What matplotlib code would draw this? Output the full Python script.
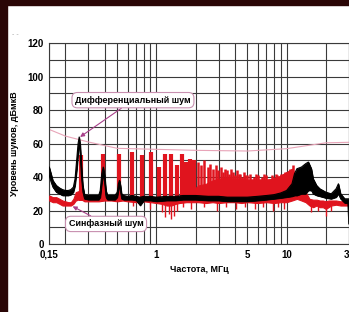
import matplotlib
matplotlib.use("Agg")
import matplotlib.pyplot as plt
from matplotlib.patches import Rectangle

plt.rcParams['font.family'] = ['Liberation Sans', 'DejaVu Sans']

# --- data ---
x_ticks = [0.15, 1, 5, 10, 30]
x_tick_labels = ["0,15", "1", "5", "10", "30"]
x_grid = [0.15, 0.2, 0.3, 0.4, 0.5, 0.6, 0.7, 0.8, 0.9, 1, 2, 3, 4, 5, 6, 7, 8, 9, 10, 20, 30]
y_ticks = [0, 20, 40, 60, 80, 100, 120]

# limit line (pink)
limit_f = [0.15, 0.2, 0.3, 0.5, 1, 2, 5, 10, 20, 30]
limit_v = [68.5, 64.5, 61, 57.2, 56.6, 56, 55.6, 57, 60.5, 60.8]

# common-mode noise (red): floor band
red_f = [0.15, 0.16, 0.17, 0.18, 0.19, 0.20, 0.21, 0.22, 0.23, 0.24, 0.26, 0.28, 0.30, 0.33,
         0.36, 0.40, 0.45, 0.50, 0.55, 0.60, 0.70, 0.75, 0.80, 0.90, 1.0, 1.1, 1.2, 1.3, 1.4,
         1.5, 1.7, 1.9, 2.1, 2.4, 2.7, 3.0, 3.5, 4.0, 4.5, 5.0, 6.0, 7.0, 8.0, 9.0, 10.0, 11.0,
         12.0, 13.0, 14.0, 15.0, 16.0, 17.0, 18.0, 19.0, 20.0, 21.0, 22.0, 24.0, 26.0, 28.0, 30.0]
red_lo = [26, 25, 25, 24, 23, 23, 23, 23, 24, 26, 27, 25.5, 25.5, 25.5,
          25.5, 26, 26, 25.5, 26, 25.5, 25, 25, 25.5, 25, 24.5, 24, 23, 23, 24,
          24.5, 25, 25, 25, 24.5, 25, 24.5, 25, 25, 24.5, 25, 24.5, 25, 24.5, 25, 25, 26,
          27, 26, 25, 23, 22, 23, 22, 22, 21, 22, 23, 23.5, 23, 23, 23]
red_hi = [29, 28, 28, 27, 26, 25.5, 25, 25, 27, 31, 32, 28, 28, 28,
          28, 29, 29, 29, 29, 28, 28, 28, 28, 28, 28, 27, 27, 27, 27,
          28, 30, 32, 35, 36, 38, 39, 39.5, 39, 39, 38.5, 38.5, 38.5, 39, 41, 43, 45,
          40, 35, 31, 27, 26.5, 26.5, 26, 26, 25.5, 26, 26, 26, 25.5, 26, 25.5]

# red harmonic spikes
spike_f = [0.265, 0.39, 0.52, 0.65, 0.78, 0.91, 1.04, 1.17, 1.30, 1.43, 1.56, 1.69, 1.82, 1.95]
spike_top = [53, 54, 54, 55, 53, 55, 46, 54, 54, 47, 54, 49, 51, 50]
dense_f = [2.08, 2.21, 2.34, 2.47, 2.6, 2.73, 2.86, 2.99, 3.12, 3.25, 3.38, 3.51, 3.64, 3.77,
           3.9, 4.03, 4.16, 4.29, 4.42, 4.55, 4.68, 4.81, 4.94, 5.2, 5.4, 5.6, 5.8, 6.0, 6.25,
           6.5, 6.75, 7.0, 7.25, 7.5, 7.75, 8.0, 8.25, 8.5, 8.75, 9.0, 9.25, 9.5, 9.75, 10.0,
           10.3, 10.6, 10.9, 11.2]
dense_top = [49, 47, 50, 46, 48, 45, 47, 44, 46, 43, 45, 44, 42, 45,
             43, 41, 44, 42, 42, 40, 43, 41, 41, 42, 39, 40, 42, 41, 39,
             40, 42, 41, 39, 39, 41, 40, 42, 41, 40, 42, 40, 41, 43, 43,
             42, 45, 44, 47]

# red downward dips
dip_f = [0.66, 0.9, 1.1, 1.17, 1.25, 1.3, 1.36, 1.45, 1.6, 1.85, 2.3, 2.9, 3.4, 4.1, 4.8,
         5.7, 6.6, 7.8, 8.6, 9.6, 15.5, 17.5, 20.0, 22.0]
dip_bottom = [23, 21, 19, 16, 18, 15, 17, 20, 22, 21, 22, 20, 22, 21, 22,
              21, 22, 20, 22, 21, 19, 20, 17, 20]

# differential noise (black) band
black_f = [0.15, 0.155, 0.16, 0.17, 0.18, 0.19, 0.20, 0.21, 0.22, 0.23, 0.237, 0.245, 0.25,
           0.255, 0.26, 0.265, 0.272, 0.28, 0.30, 0.33, 0.36, 0.37, 0.38, 0.39, 0.40, 0.41,
           0.42, 0.45, 0.48, 0.50, 0.51, 0.52, 0.53, 0.54, 0.56, 0.6, 0.65, 0.7, 0.75, 0.8,
           0.9, 1.0, 1.2, 1.4, 1.6, 1.8, 2.0, 2.5, 3.0, 3.5, 4.0, 5.0, 6.0, 7.0, 8.0, 9.0, 10.0,
           11.0, 11.5, 12.0, 13.0, 14.0, 14.7, 15.5, 16.0, 17.0, 18.0, 19.0, 20.0, 22.0, 24.0,
           25.0, 26.0, 28.0, 29.5, 30.0]
black_lo = [41, 37, 34, 31, 30, 29, 29, 29, 29.5, 31, 35, 45, 54,
            60, 52, 40, 31, 27, 26.5, 26.5, 26.5, 28, 36, 42, 36, 28,
            26.5, 26.5, 26.5, 28, 32, 35, 31, 27, 26.5, 26.5, 26.5, 26, 23, 26,
            26, 25.5, 26, 26, 26.5, 26.5, 26.5, 26, 26, 25.5, 25.5, 25.5, 26, 26.5, 27, 27.5, 28,
            28.5, 29, 29, 30, 30, 32, 32, 30, 29, 28.5, 28, 27.5, 27, 28,
            30, 27, 24.5, 24.5, 12]
black_hi = [46, 42, 38, 35, 33.5, 32.5, 32, 32, 32.5, 34, 39, 52, 60,
            64, 59, 47, 35, 29.5, 29, 29, 29, 32, 42, 46, 41, 32,
            29, 29, 29, 31, 36, 38, 35, 30, 29, 28.5, 29, 28.5, 28, 28.5,
            28.5, 28, 28.5, 28.5, 29, 29, 29, 28.5, 28.5, 28, 28, 28, 28.5, 29, 29.5, 30.5, 32,
            36, 42, 45, 46, 48, 49, 45, 39, 35, 33, 32, 31, 30, 33,
            36, 30, 27, 27, 27]

fig = plt.figure(figsize=(3.49, 3.12), dpi=100)
fig.patch.set_facecolor('white')
border = '#2a0606'
fig.add_artist(Rectangle((0, 0), 7 / 349, 1, transform=fig.transFigure, color=border, zorder=0))
fig.add_artist(Rectangle((0, 1 - 5 / 312), 1, 5 / 312, transform=fig.transFigure, color=border, zorder=0))
fig.text(12 / 349, 1 - 35 / 312, "- -", fontsize=5, color='#aaaaaa', va='center')

ax = fig.add_axes([49.2 / 349, 68 / 312, 299.5 / 349, 200.7 / 312])
ax.set_xscale('log')
ax.set_xlim(0.15, 30)
ax.set_ylim(0, 120)

for f in x_grid:
    ax.axvline(f, color='#3a3a3a', lw=0.8, zorder=1)
for v in range(0, 121, 10):
    ax.axhline(v, color='#3a3a3a', lw=0.8, zorder=1)

ax.plot(limit_f, limit_v, color='#e8a4b8', lw=0.8, zorder=2)

red = '#e0141e'
ax.fill_between(red_f, red_lo, red_hi, color=red, lw=0.8, zorder=3)
ax.vlines(spike_f, 26, spike_top, color=red, lw=3.0, zorder=3)
ax.vlines(dense_f, 28, dense_top, color=red, lw=1.8, zorder=3)
ax.vlines(dip_f, dip_bottom, 26, color=red, lw=1.0, zorder=3)

ax.fill_between(black_f, black_lo, black_hi, color='black', lw=0.6, zorder=4)
ax.plot(black_f, black_hi, color='black', lw=0.8, zorder=4)
ax.plot(black_f, black_lo, color='black', lw=0.6, zorder=4)

ax.set_xticks(x_ticks)
ax.set_xticklabels(x_tick_labels)
ax.minorticks_off()
ax.set_yticks(y_ticks)
ax.tick_params(length=0, labelsize=7, pad=4)
for lab in ax.get_xticklabels() + ax.get_yticklabels():
    lab.set_fontweight('bold')
for s in ax.spines.values():
    s.set_color('#3a3a3a')
    s.set_linewidth(0.8)

ax.set_xlabel("Частота, МГц", fontsize=6.5, fontweight='bold', labelpad=4)
ax.set_ylabel("Уровень шумов, дБмкВ", fontsize=6.5, fontweight='bold', labelpad=6)

box = dict(boxstyle='round,pad=0.35,rounding_size=0.6', fc='white', ec='#c890b0', lw=0.8)
arrow = dict(arrowstyle='-|>', color='#a8408a', lw=0.8, mutation_scale=6, shrinkA=0, shrinkB=0)
ax.annotate("Дифференциальный шум", xy=(0.259, 64), xytext=(0.66, 86),
            fontsize=6.5, fontweight='bold', ha='center', va='center', bbox=box,
            arrowprops=arrow, zorder=6)
ax.annotate("Синфазный шум", xy=(0.227, 22.5), xytext=(0.41, 12),
            fontsize=6.5, fontweight='bold', ha='center', va='center', bbox=box,
            arrowprops=arrow, zorder=6)

fig.savefig("out.png", dpi=100)
